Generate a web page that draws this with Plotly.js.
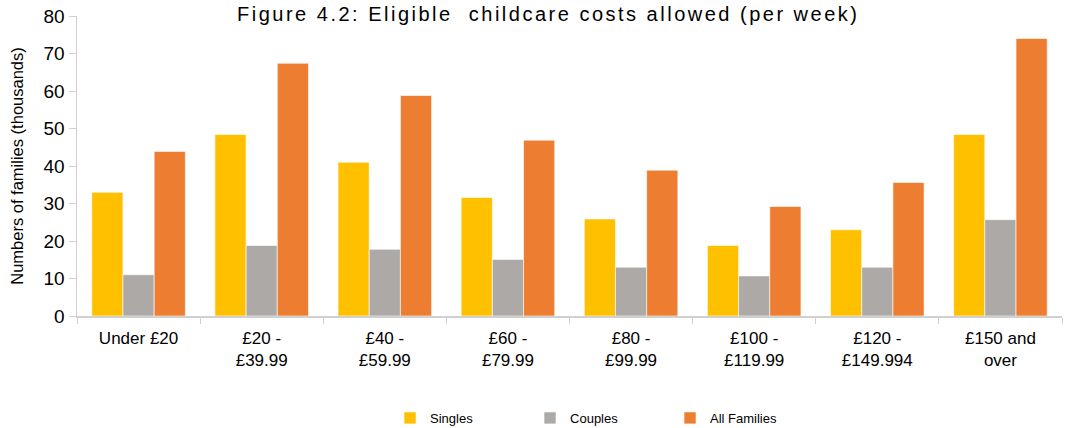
<!DOCTYPE html>
<html><head><meta charset="utf-8">
<script src="https://cdn.plot.ly/plotly-3.0.1.min.js"></script>
<style>html,body{margin:0;padding:0;background:#fff}#chart{width:1090px;height:428px}
.gtitle{letter-spacing:2.5px}</style>
</head><body><div id="chart"></div>
<script>
const categories = ["Under £20", "£20 -<br>£39.99", "£40 -<br>£59.99", "£60 -<br>£79.99", "£80 -<br>£99.99", "£100 -<br>£119.99", "£120 -<br>£149.994", "£150 and<br>over"];
const singles = [33.0, 48.4, 41.0, 31.6, 25.9, 18.8, 23.0, 48.4];
const couples = [11.0, 18.8, 17.8, 15.1, 13.0, 10.7, 13.0, 25.7];
const allFamilies = [43.9, 67.4, 58.8, 46.9, 38.9, 29.2, 35.6, 74.0];
const seriesNames = ["Singles", "Couples", "All Families"];
const colors = ["#FFC000", "#ADA9A7", "#ED7D31"];
const vals = [singles, couples, allFamilies];

const traces = vals.map((v, i) => ({
  type: 'bar', name: seriesNames[i], x: categories, y: v,
  marker: {color: colors[i], line: {color: 'rgba(255,255,255,0.6)', width: 1}},
  hoverinfo: 'y'
}));

const layout = {
  width: 1090, height: 428,
  margin: {l: 77, r: 28, t: 16, b: 112},
  paper_bgcolor: '#fff', plot_bgcolor: '#fff',
  barmode: 'group', bargap: 0.24, bargroupgap: 0,
  font: {family: 'Liberation Sans, Arial, sans-serif', color: '#000'},
  title: {text: 'Figure 4.2: Eligible  childcare costs allowed (per week)',
          font: {size: 20, color: '#000'}, x: 0.503, xanchor: 'center', y: 0.967, yanchor: 'middle'},
  xaxis: {showgrid: false, showline: true, linecolor: '#D0D0D0', linewidth: 1.5,
          ticks: 'outside', tickson: 'boundaries', ticklen: 6, tickcolor: '#D0D0D0',
          tickfont: {size: 17, color: '#000'}, zeroline: false, automargin: false,
          ticklabelstandoff: 6},
  yaxis: {range: [0, 80], dtick: 10, showgrid: false, showline: true, linecolor: '#D0D0D0', linewidth: 1.5,
          ticks: 'outside', ticklen: 7, tickcolor: '#D0D0D0', zeroline: false, automargin: false,
          tickfont: {size: 19, color: '#000'},
          title: {text: 'Numbers of families (thousands)', font: {size: 16.5, color: '#000'}, standoff: 16}},
  legend: {orientation: 'h', x: 0.531, xanchor: 'center', yref: 'container', y: 0.0234, yanchor: 'middle',
           font: {size: 13, color: '#000'}, entrywidth: 95, entrywidthmode: 'pixels',
           itemwidth: 30},
  showlegend: true
};
Plotly.newPlot('chart', traces, layout, {displayModeBar: false, staticPlot: true});
</script></body></html>
